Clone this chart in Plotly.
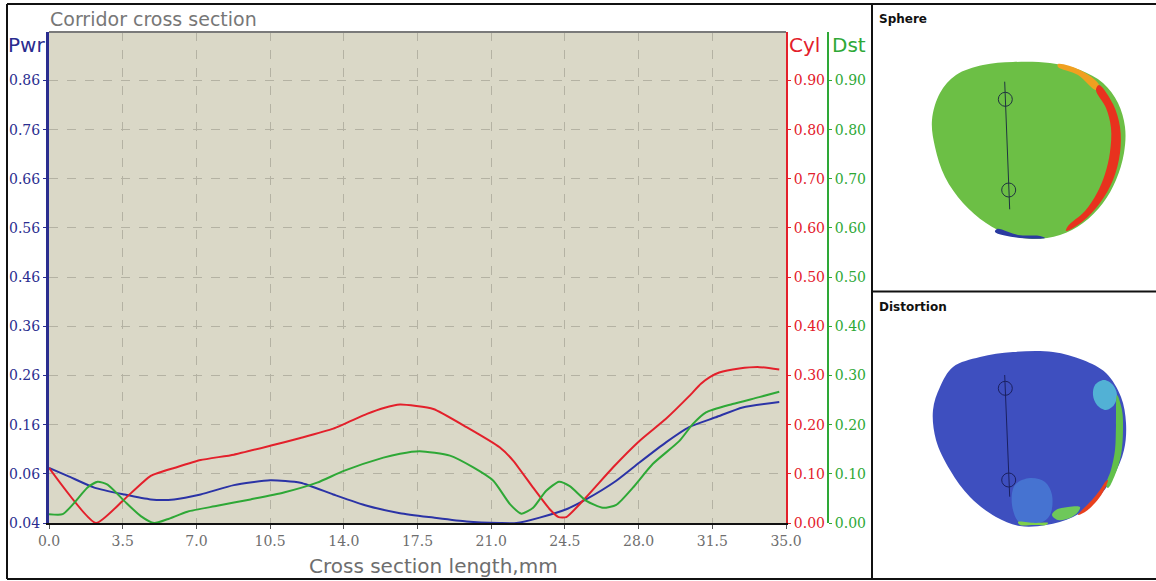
import plotly.graph_objects as go

W, H = 1156, 581

# ---- corridor cross-section profiles (x in mm) ----
pwr_x = [0.0, 0.88, 2.15, 3.57, 4.83, 5.94, 7.2, 8.78, 10.5, 11.94, 13.5, 15.1, 16.67,
         18.25, 19.83, 21.4, 22.2, 23.3, 24.57, 25.5, 26.94, 28.04, 29.3, 30.4, 31.67,
         32.94, 34.68]
pwr_y = [0.072, 0.056, 0.032, 0.018, 0.008, 0.008, 0.018, 0.037, 0.047, 0.042, 0.018,
         -0.005, -0.020, -0.029, -0.037, -0.040, -0.040, -0.029, -0.012, 0.008, 0.046,
         0.083, 0.124, 0.155, 0.175, 0.195, 0.206]

cyl_x = [0.0, 2.23, 3.57, 4.83, 6.1, 7.2, 8.78, 10.5, 11.94, 13.5, 15.1, 15.9, 16.67,
         18.25, 19.83, 21.4, 22.04, 22.99, 23.78, 24.2, 24.57, 25.5, 26.78, 28.04, 29.3,
         30.4, 30.96, 31.4, 31.83, 32.78, 33.73, 34.68]
cyl_y = [0.112, 0.0, 0.048, 0.096, 0.114, 0.128, 0.139, 0.157, 0.173, 0.192, 0.222,
         0.234, 0.241, 0.232, 0.195, 0.154, 0.127, 0.072, 0.028, 0.012, 0.012, 0.052,
         0.113, 0.167, 0.212, 0.258, 0.283, 0.297, 0.306, 0.314, 0.317, 0.312]

dst_x = [0.0, 0.65, 1.2, 1.83, 2.31, 2.78, 3.57, 4.36, 4.99, 5.62, 6.57, 7.99, 9.57,
         11.15, 12.73, 14.0, 15.88, 16.67, 17.6, 19.04, 20.15, 21.1, 21.9, 22.44, 22.99,
         23.6, 24.22, 24.73, 25.52, 26.3, 26.94, 27.73, 28.67, 29.94, 30.57, 31.2, 32.46,
         33.73, 34.68]
dst_y = [0.018, 0.018, 0.041, 0.072, 0.084, 0.078, 0.045, 0.014, 0.0, 0.0075, 0.023,
         0.035, 0.048, 0.062, 0.082, 0.106, 0.133, 0.141, 0.146, 0.137, 0.113, 0.086,
         0.038, 0.019, 0.031, 0.065, 0.084, 0.075, 0.045, 0.031, 0.037, 0.072, 0.120,
         0.167, 0.201, 0.225, 0.242, 0.256, 0.267]

# ---- axis ticks ----
x_ticks = [0.0, 3.5, 7.0, 10.5, 14.0, 17.5, 21.0, 24.5, 28.0, 31.5, 35.0]
x_tick_text = ["0.0", "3.5", "7.0", "10.5", "14.0", "17.5", "21.0", "24.5", "28.0", "31.5", "35.0"]
pwr_ticks = [-0.04, 0.06, 0.16, 0.26, 0.36, 0.46, 0.56, 0.66, 0.76, 0.86]
pwr_tick_text = ["0.04", "0.06", "0.16", "0.26", "0.36", "0.46", "0.56", "0.66", "0.76", "0.86"]
right_ticks = [0.0, 0.1, 0.2, 0.3, 0.4, 0.5, 0.6, 0.7, 0.8, 0.9]
right_tick_text = ["0.00", "0.10", "0.20", "0.30", "0.40", "0.50", "0.60", "0.70", "0.80", "0.90"]

# ---- lens map outlines (panel pixel coordinates) ----
sphere_x = [932, 940, 956, 983, 1013, 1050, 1080, 1103, 1118, 1125, 1124, 1116, 1103,
            1083, 1060, 1033, 1010, 986, 963, 945, 935, 932]
sphere_y = [120, 93, 75, 65, 62, 63, 70, 83, 103, 127, 153, 180, 203, 223, 235, 239,
            235, 223, 203, 177, 147, 120]
sphere_red_x = [1099, 1113, 1120, 1120, 1113, 1100, 1082, 1066, 1068, 1085, 1097, 1105,
                1110, 1111, 1106, 1096, 1099]
sphere_red_y = [85, 104, 127, 153, 180, 203, 222, 231, 226, 211, 193, 174, 152, 128,
                108, 90, 85]
sphere_orange_x = [1058, 1080, 1099, 1096, 1078, 1058, 1058]
sphere_orange_y = [64, 70, 85, 90, 75, 67, 64]
sphere_blue_x = [995, 1020, 1045, 1040, 1018, 997, 995]
sphere_blue_y = [232, 238, 238, 236, 235, 229, 232]
sphere_axis_x = [1004.7, 1009.7]
sphere_axis_y = [81.7, 209.3]
sphere_ring_x = [1005.3, 1008.7]
sphere_ring_y = [99.3, 190.0]

dist_x = [933, 940, 953, 980, 1013, 1053, 1083, 1106, 1121, 1126, 1124, 1113, 1096,
          1073, 1046, 1020, 996, 970, 950, 936, 933]
dist_y = [410, 387, 367, 357, 352, 352, 360, 373, 397, 423, 450, 477, 500, 517, 525,
          526, 517, 497, 470, 440, 410]
dist_cyan_x = [1095, 1104, 1113, 1117, 1114, 1106, 1097, 1093, 1095]
dist_cyan_y = [385, 380, 385, 395, 405, 410, 405, 395, 385]
dist_green_x = [1117, 1122, 1123, 1121, 1115, 1108, 1106, 1111, 1115, 1116, 1117]
dist_green_y = [395, 410, 430, 455, 475, 488, 485, 470, 450, 425, 395]
dist_hot_x = [1108, 1103, 1095, 1085, 1078, 1083, 1092, 1100, 1106, 1108]
dist_hot_y = [480, 492, 503, 512, 515, 509, 500, 490, 481, 480]
dist_lowgreen_x = [1078, 1070, 1058, 1052, 1056, 1068, 1080, 1078]
dist_lowgreen_y = [512, 518, 520, 515, 510, 507, 507, 512]
dist_light_x = [1015, 1030, 1045, 1052, 1050, 1040, 1020, 1012, 1015]
dist_light_y = [485, 478, 482, 495, 515, 523, 523, 505, 485]
dist_edge_x = [1018, 1035, 1048, 1046, 1034, 1020, 1018]
dist_edge_y = [522, 523, 523, 525, 525, 525, 522]
dist_axis_x = [1004.7, 1009.7]
dist_axis_y = [375.0, 496.7]
dist_ring_x = [1005.3, 1008.7]
dist_ring_y = [388.3, 480.0]

BLUE = "#2b33a6"
RED = "#e3202b"
GREEN = "#2ea836"
NAVY = "#2a2d8f"
GRAY = "#6e6e6e"
TICK_FONT = "DejaVu Serif"
TEXT_FONT = "DejaVu Sans"

def px(xp):
    return xp / W

def py(yp):
    return 1 - yp / H

fig = go.Figure()

fig.add_trace(go.Scatter(x=pwr_x, y=pwr_y, mode="lines", yaxis="y",
                         line=dict(color=BLUE, width=2, shape="spline", smoothing=0.6),
                         hoverinfo="skip", showlegend=False))
fig.add_trace(go.Scatter(x=cyl_x, y=cyl_y, mode="lines", yaxis="y2",
                         line=dict(color=RED, width=2, shape="spline", smoothing=0.5),
                         hoverinfo="skip", showlegend=False))
fig.add_trace(go.Scatter(x=dst_x, y=dst_y, mode="lines", yaxis="y3",
                         line=dict(color=GREEN, width=2, shape="spline", smoothing=0.6),
                         hoverinfo="skip", showlegend=False))

# lens maps
def lens_poly(xs, ys, color, smooth=True):
    fig.add_trace(go.Scatter(x=xs, y=ys, xaxis="x4", yaxis="y4", mode="lines",
                             fill="toself", fillcolor=color,
                             line=dict(width=0, color=color,
                                       shape="spline" if smooth else "linear"),
                             hoverinfo="skip", showlegend=False))

lens_poly(sphere_x, sphere_y, "#6cbf45")
lens_poly(sphere_orange_x, sphere_orange_y, "#f0a020")
lens_poly(sphere_red_x, sphere_red_y, "#e8321e")
lens_poly(sphere_blue_x, sphere_blue_y, "#2a3aa0")

lens_poly(dist_x, dist_y, "#3e4fbf")
lens_poly(dist_light_x, dist_light_y, "rgba(80,160,230,0.45)")
lens_poly(dist_cyan_x, dist_cyan_y, "rgba(90,210,220,0.75)")
lens_poly(dist_green_x, dist_green_y, "#62c04a")
lens_poly(dist_lowgreen_x, dist_lowgreen_y, "#6ec85a")
lens_poly(dist_hot_x, dist_hot_y, "#e8401e")
lens_poly(dist_edge_x, dist_edge_y, "#7ed04a")

for ax_x, ax_y, ring_x, ring_y, col in [
    (sphere_axis_x, sphere_axis_y, sphere_ring_x, sphere_ring_y, "#1f3340"),
    (dist_axis_x, dist_axis_y, dist_ring_x, dist_ring_y, "#1a2060"),
]:
    fig.add_trace(go.Scatter(x=ax_x, y=ax_y, xaxis="x4", yaxis="y4", mode="lines",
                             line=dict(color=col, width=1), hoverinfo="skip", showlegend=False))
    fig.add_trace(go.Scatter(x=ring_x, y=ring_y, xaxis="x4", yaxis="y4", mode="markers",
                             marker=dict(symbol="circle-open", size=14, color=col,
                                         line=dict(width=1, color=col)),
                             hoverinfo="skip", showlegend=False))

dom_x = [px(49), px(786)]
dom_y = [py(523), py(32)]

fig.update_layout(
    width=W, height=H,
    autosize=False,
    margin=dict(l=0, r=0, t=0, b=0, pad=0),
    paper_bgcolor="white",
    plot_bgcolor="rgba(0,0,0,0)",
    xaxis=dict(domain=dom_x, range=[0, 35], tickvals=x_ticks, ticktext=x_tick_text,
               showline=True, linecolor="#111111", linewidth=2, ticks="outside",
               ticklen=4, tickcolor="#555555",
               tickfont=dict(family=TICK_FONT, size=14, color=GRAY),
               showgrid=True, gridcolor="#b4b2a3", griddash="dash", gridwidth=1,
               zeroline=False, fixedrange=True, anchor="y", automargin=False),
    yaxis=dict(domain=dom_y, range=[-0.04, 0.9586], tickvals=pwr_ticks,
               ticktext=pwr_tick_text, showline=True, linecolor=NAVY, linewidth=3,
               ticks="outside", ticklen=3, tickcolor=NAVY,
               tickfont=dict(family=TICK_FONT, size=14, color=NAVY),
               showgrid=False, zeroline=False, fixedrange=True, anchor="x",
               automargin=False),
    yaxis2=dict(domain=dom_y, range=[0, 0.9986], overlaying="y", side="right", anchor="x",
                tickvals=right_ticks, ticktext=right_tick_text, showline=True,
                linecolor=RED, linewidth=2, ticks="outside", ticklen=3, tickcolor=RED,
                tickfont=dict(family=TICK_FONT, size=14, color=RED),
                showgrid=True, gridcolor="#b4b2a3", griddash="dash", gridwidth=1,
                zeroline=False, fixedrange=True, automargin=False),
    yaxis3=dict(domain=dom_y, range=[0, 0.9986], overlaying="y", side="right",
                anchor="free", position=px(828), tickvals=right_ticks,
                ticktext=right_tick_text, showline=True, linecolor=GREEN, linewidth=2,
                ticks="outside", ticklen=3, tickcolor=GREEN,
                tickfont=dict(family=TICK_FONT, size=14, color=GREEN),
                showgrid=False, zeroline=False, fixedrange=True, automargin=False),
    xaxis4=dict(domain=[px(873), 1], range=[873, 1156], visible=False, anchor="y4",
                fixedrange=True, automargin=False),
    yaxis4=dict(domain=[0, 1], range=[581, 0], visible=False, anchor="x4",
                fixedrange=True, automargin=False),
    showlegend=False,
)

# plot area background and top border
fig.add_shape(type="rect", xref="x domain", yref="y domain", x0=0, x1=1, y0=0, y1=1,
              fillcolor="#dad8c7", line=dict(width=0), layer="below")
fig.add_shape(type="line", xref="x domain", yref="y domain", x0=0, x1=1, y0=1, y1=1,
              line=dict(color="#7a7a7a", width=2))

# panel frames
frame = dict(color="#111111", width=2)
fig.add_shape(type="line", xref="paper", yref="paper", x0=px(7), x1=1, y0=py(4), y1=py(4), line=frame)
fig.add_shape(type="line", xref="paper", yref="paper", x0=px(7), x1=1, y0=py(579), y1=py(579), line=frame)
fig.add_shape(type="line", xref="paper", yref="paper", x0=px(7), x1=px(7), y0=py(4), y1=py(579), line=frame)
fig.add_shape(type="line", xref="paper", yref="paper", x0=px(872), x1=px(872), y0=py(4), y1=py(579), line=frame)
fig.add_shape(type="line", xref="paper", yref="paper", x0=px(872), x1=1, y0=py(291.5), y1=py(291.5), line=frame)

def label(text, x, y, size, color, anchor="left", weight="normal", family=TEXT_FONT):
    fig.add_annotation(text=text, xref="paper", yref="paper", x=px(x), y=py(y),
                       xanchor=anchor, yanchor="middle", showarrow=False,
                       font=dict(family=family, size=size, color=color, weight=weight))

label("Corridor cross section", 48, 19, 19, "#777777")
label("Pwr", 6, 45, 20, NAVY)
label("Cyl", 787, 45, 20, RED)
label("Dst", 830, 45, 20, GREEN)
label("Cross section length,mm", 433, 566, 20, GRAY, anchor="center")
label("Sphere", 877, 19, 12, "#111111", weight="bold")
label("Distortion", 877, 307, 12, "#111111", weight="bold")

fig.write_html(
    "out.html",
    config={"responsive": False, "displayModeBar": False},
    post_script="document.body.style.margin='0';document.body.style.overflow='hidden';",
)
